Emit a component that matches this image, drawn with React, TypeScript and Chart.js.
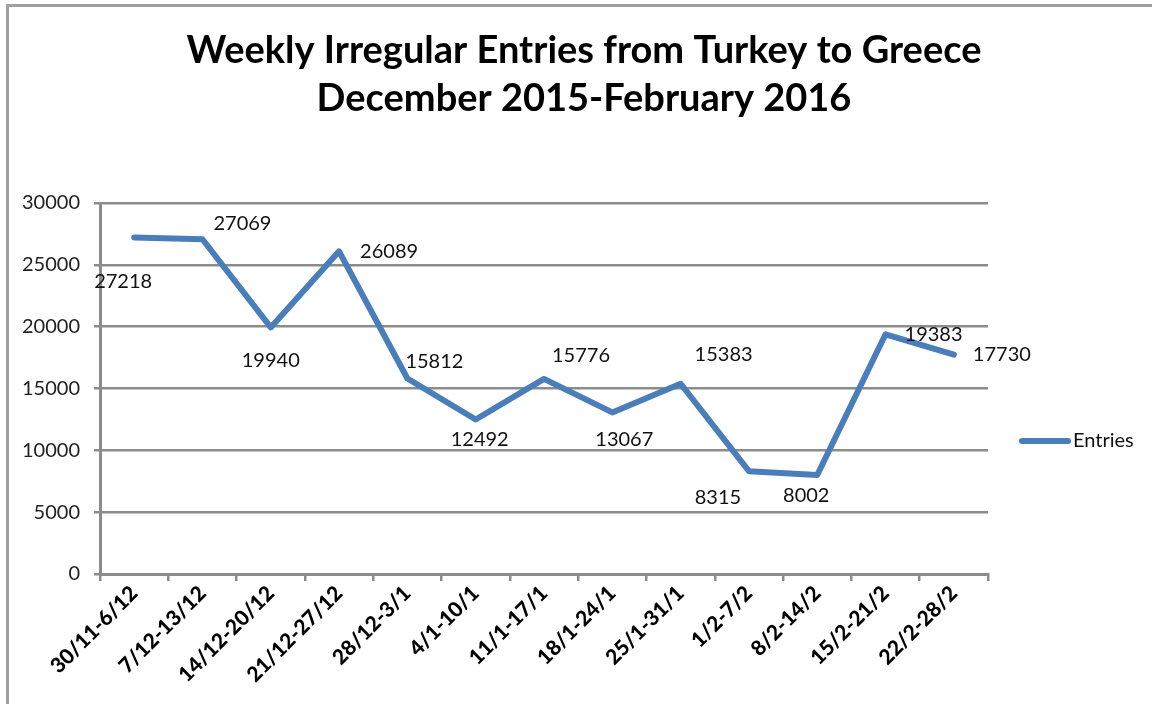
import React, { useEffect, useRef } from "react";
import { Chart, registerables } from "chart.js";

Chart.register(...registerables);

const titleLines = ["Weekly Irregular Entries from Turkey to Greece", "December 2015-February 2016"];
const seriesName = "Entries";
const weeks = [
  "30/11-6/12",
  "7/12-13/12",
  "14/12-20/12",
  "21/12-27/12",
  "28/12-3/1",
  "4/1-10/1",
  "11/1-17/1",
  "18/1-24/1",
  "25/1-31/1",
  "1/2-7/2",
  "8/2-14/2",
  "15/2-21/2",
  "22/2-28/2",
];
const entries = [27218, 27069, 19940, 26089, 15812, 12492, 15776, 13067, 15383, 8315, 8002, 19383, 17730];
const yMin = 0;
const yMax = 30000;
const yStep = 5000;

// label placement relative to each point (style, not data)
const labelOffsets: [number, number][] = [
  [-11, 44],
  [40, -16],
  [0, 33],
  [50, 0],
  [27, -17],
  [4, 20],
  [37, -23],
  [12, 27],
  [43, -29],
  [-31, 26],
  [-11, 21],
  [48, 0],
  [48, 0],
];

const LINE_COLOR = "#4a7ebb";
const GRID_COLOR = "#8c8c8c";
const FONT = "Lato";

const overlayPlugin = {
  id: "overlay",
  afterDraw(chart: any) {
    const ctx = chart.ctx;
    const area = chart.chartArea;
    ctx.save();
    // title
    ctx.fillStyle = "#000";
    ctx.textAlign = "center";
    ctx.textBaseline = "alphabetic";
    ctx.font = `bold 38px ${FONT}`;
    ctx.fillText(titleLines[0], 584, 63);
    ctx.fillText(titleLines[1], 584, 111);

    // data labels
    const meta = chart.getDatasetMeta(0);
    ctx.font = `20px ${FONT}`;
    ctx.fillStyle = "#111";
    ctx.textAlign = "center";
    ctx.textBaseline = "middle";
    meta.data.forEach((pt: any, i: number) => {
      const [dx, dy] = labelOffsets[i] || [0, 0];
      ctx.fillText(String(entries[i]), pt.x + dx, pt.y + dy);
    });

    // legend
    const lx = area.right + 34;
    const ly = 441;
    ctx.strokeStyle = LINE_COLOR;
    ctx.lineWidth = 6;
    ctx.lineCap = "round";
    ctx.beginPath();
    ctx.moveTo(lx, ly);
    ctx.lineTo(lx + 46, ly);
    ctx.stroke();
    ctx.fillStyle = "#111";
    ctx.textAlign = "left";
    ctx.fillText(seriesName, lx + 51, ly);
    ctx.restore();
  },
};

export default function App() {
  const ref = useRef<HTMLCanvasElement | null>(null);

  useEffect(() => {
    if (!ref.current) return;
    const chart = new Chart(ref.current, {
      type: "line",
      data: {
        labels: weeks,
        datasets: [
          {
            label: seriesName,
            data: entries,
            borderColor: LINE_COLOR,
            backgroundColor: LINE_COLOR,
            borderWidth: 6,
            pointRadius: 0,
            tension: 0,
            borderJoinStyle: "round",
            borderCapStyle: "round",
          },
        ],
      },
      options: {
        responsive: false,
        animation: false,
        devicePixelRatio: 1,
        layout: { padding: { left: 0, top: 203, right: 164, bottom: 0 } },
        plugins: {
          legend: { display: false },
          title: { display: false },
          tooltip: { enabled: false },
        },
        scales: {
          x: {
            type: "category",
            offset: true,
            grid: {
              offset: true,
              drawOnChartArea: false,
              drawTicks: true,
              tickLength: 7,
              color: GRID_COLOR,
              lineWidth: 2.5,
            },
            border: { color: GRID_COLOR, width: 3 },
            ticks: {
              autoSkip: false,
              minRotation: 45,
              maxRotation: 45,
              padding: 0,
              color: "#000",
              font: { family: FONT, weight: "900", size: 21 },
            },
            afterFit: (s: any) => {
              s.height = 130;
            },
          },
          y: {
            min: yMin,
            max: yMax,
            ticks: {
              stepSize: yStep,
              padding: 14,
              color: "#222",
              font: { family: FONT, size: 20 },
              callback: (v: any) => String(v),
            },
            grid: { color: GRID_COLOR, lineWidth: 2.5, tickLength: 6 },
            border: { color: GRID_COLOR, width: 3 },
            afterFit: (s: any) => {
              s.width = 100;
            },
          },
        },
      },
      plugins: [overlayPlugin],
    } as any);
    return () => chart.destroy();
  }, []);

  return (
    <div style={{ position: "absolute", left: 0, top: 0, width: 1152, height: 704, overflow: "hidden", background: "#fff" }}>
      <div
        style={{
          position: "absolute",
          left: 6,
          top: 4,
          width: 1200,
          height: 800,
          borderTop: "3px solid #a0a0a0",
          borderLeft: "3px solid #a0a0a0",
        }}
      />
      <canvas ref={ref} width={1152} height={704} style={{ position: "absolute", left: 0, top: 0, display: "block" }} />
    </div>
  );
}
